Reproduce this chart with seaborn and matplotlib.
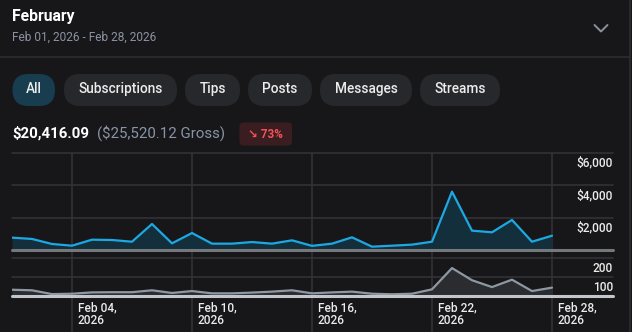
import matplotlib
matplotlib.use('Agg')
import matplotlib.pyplot as plt
import matplotlib.transforms as mtransforms
from matplotlib.patches import FancyBboxPatch
import pandas as pd
import seaborn as sns

# data
dates = pd.date_range('2026-02-01', '2026-02-28', freq='D')
earnings = [760, 680, 370, 265, 635, 615, 510, 1600, 410, 1045, 390, 390, 490, 390,
            595, 255, 390, 780, 205, 265, 330, 510, 3590, 1190, 1090, 1850, 510, 880]
counts = [33, 30, 10, 12, 19, 20, 20, 30, 16, 26, 14, 14, 18, 23,
          30, 14, 19, 23, 12, 9, 12, 35, 147, 83, 47, 86, 26, 44]
earn_ticks = [2000, 4000, 6000]
earn_labels = ['$2,000', '$4,000', '$6,000']
count_ticks = [100, 200]
count_labels = ['100', '200']
label_dates = pd.to_datetime(['2026-02-04', '2026-02-10', '2026-02-16', '2026-02-22', '2026-02-28'])
tabs = ['All', 'Subscriptions', 'Tips', 'Posts', 'Messages', 'Streams']
tab_x = [(12.5, 55), (64, 177), (185, 240), (248, 312), (320, 412), (420, 500)]

BG = '#17171a'
GRID = '#343539'
BLUE = '#1ea8e3'

sns.set_theme(style='dark', rc={'figure.facecolor': BG, 'axes.facecolor': BG,
                                'savefig.facecolor': BG})
plt.rcParams['font.family'] = ['Roboto', 'DejaVu Sans']

W, H = 632, 332
fig = plt.figure(figsize=(W / 100, H / 100), dpi=100)


def Y(y):
    return H - y


# header overlay in pixel coords
ov = fig.add_axes([0, 0, 1, 1], facecolor='none')
ov.set_xlim(0, W)
ov.set_ylim(0, H)
ov.axis('off')
ov.plot([0, 630], [Y(57), Y(57)], color='#2c2d31', lw=1.2)
ov.plot([630, 630], [0, H], color='#2c2d31', lw=1.2)
ov.plot([594.5, 601, 607.5], [Y(25), Y(31.5), Y(25)], color='#8a929e', lw=1.4,
        solid_capstyle='round', solid_joinstyle='round')

ov.text(12, Y(17), 'February', fontsize=11.3, weight='bold', color='white', va='center')
ov.text(12, Y(37), 'Feb 01, 2026 - Feb 28, 2026', fontsize=8.6, color='#8a92a0', va='center')

for name, (x0, x1) in zip(tabs, tab_x):
    fc = '#173d4f' if name == 'All' else '#26282c'
    ov.add_patch(FancyBboxPatch((x0, Y(106)), x1 - x0, 32,
                                boxstyle='round,pad=0,rounding_size=16',
                                fc=fc, ec='none'))
    ov.text((x0 + x1) / 2, Y(89), name, fontsize=9.8, weight='medium',
            color='#ececec', ha='center', va='center')

ov.text(12, Y(133), '$20,416.09', fontsize=10.8, weight='bold', color='white', va='center')
ov.text(97, Y(133), '($25,520.12 Gross)', fontsize=10.8, color='#8895a8', va='center')
ov.add_patch(FancyBboxPatch((239.5, Y(145.5)), 52.5, 23,
                            boxstyle='round,pad=0,rounding_size=4',
                            fc='#3a1d20', ec='none'))
ov.text(265.5, Y(134), '↘ 73%', fontsize=8.5, weight='bold', color='#f0525a',
        ha='center', va='center')

# chart area
x0d = dates[0]
x1d = dates[0] + pd.Timedelta(days=30.05)

ax_bg = fig.add_axes([12 / W, 0, 601 / W, (H - 153) / H], facecolor='none')
ax_bg.set_xlim(x0d, x1d)
ax_bg.set_ylim(0, H - 153)
ax_bg.axis('off')
for d in label_dates:
    ax_bg.axvline(d, color=GRID, lw=1.1)
    off1 = mtransforms.offset_copy(ax_bg.transData, fig=fig, x=6, y=0, units='dots')
    ax_bg.text(d, H - 307.5, d.strftime('%b %d,'), transform=off1, fontsize=8.6,
               weight='medium', color='#ececec', ha='left', va='center')
    ax_bg.text(d, H - 320, d.strftime('%Y'), transform=off1, fontsize=8.6,
               weight='medium', color='#ececec', ha='left', va='center')

ax_top = fig.add_axes([12 / W, Y(250) / H, 601 / W, 97.5 / H], facecolor='none')
ax_bot = fig.add_axes([12 / W, Y(296) / H, 601 / W, 38 / H], facecolor='none')

panels = [
    (ax_top, earnings, BLUE, '#132f3b', '#74787d', 6000, earn_ticks, earn_labels),
    (ax_bot, counts, '#8e98a3', '#2a2c30', '#c2c6ca', 200, count_ticks, count_labels),
]
for ax, vals, lc, fc, base, ymax, ticks, labels in panels:
    ax.fill_between(dates, vals, 0, color=fc, lw=0, zorder=1)
    sns.lineplot(x=dates, y=vals, ax=ax, color=lc, lw=1.6, zorder=3)
    ax.axhline(0, color=base, lw=2.2, zorder=4, clip_on=False)
    for t in ticks:
        ax.axhline(t, color=GRID, lw=1.1, zorder=0, clip_on=False)
    ax.set_xlim(x0d, x1d)
    ax.set_ylim(0, ymax)
    ax.set_xticks([])
    ax.set_yticks([])
    ax.set_xlabel('')
    ax.set_ylabel('')
    for s in ax.spines.values():
        s.set_visible(False)
    trans = mtransforms.offset_copy(
        mtransforms.blended_transform_factory(ax.transAxes, ax.transData),
        fig=fig, x=0, y=-10.5, units='dots')
    for t, lab in zip(ticks, labels):
        ax.text(1.0, t, lab, transform=trans, fontsize=8.6, weight='medium',
                color='#ececec', ha='right', va='center')

fig.savefig('out.png', dpi=100, facecolor=BG)
